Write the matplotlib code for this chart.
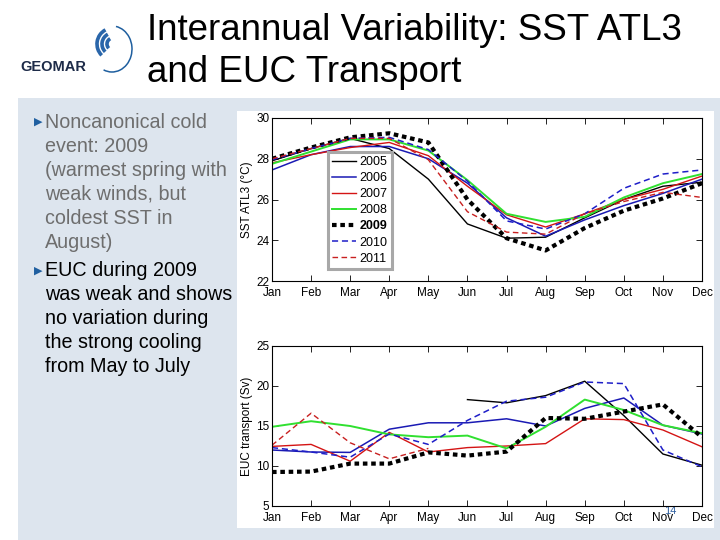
import matplotlib.pyplot as plt
from matplotlib.patches import Rectangle, Arc
import numpy as np

plt.rcParams['font.family'] = ['Liberation Sans', 'DejaVu Sans']

months = ['Jan', 'Feb', 'Mar', 'Apr', 'May', 'Jun',
          'Jul', 'Aug', 'Sep', 'Oct', 'Nov', 'Dec']
years = ['2005', '2006', '2007', '2008', '2009', '2010', '2011']

# SST ATL3 (deg C), monthly
sst_2005 = [27.9, 28.5, 29.0, 28.5, 27.0, 24.8, 24.1, 24.15, 25.1, 26.0, 26.65, 26.85]
sst_2006 = [27.45, 28.2, 28.6, 28.6, 28.0, 26.8, 25.1, 24.2, 25.0, 25.7, 26.3, 27.0]
sst_2007 = [27.8, 28.2, 28.55, 28.8, 28.15, 26.65, 25.25, 24.65, 25.3, 26.0, 26.5, 27.15]
sst_2008 = [27.75, 28.35, 28.95, 28.95, 28.4, 26.95, 25.3, 24.9, 25.15, 26.1, 26.8, 27.25]
sst_2009 = [28.0, 28.55, 29.05, 29.25, 28.8, 26.0, 24.1, 23.5, 24.6, 25.45, 26.05, 26.8]
sst_2010 = [27.95, 28.5, 29.0, 29.05, 28.45, 26.9, 24.95, 24.55, 25.3, 26.55, 27.25, 27.45]
sst_2011 = [28.0, 28.5, 29.0, 29.0, 27.95, 25.4, 24.4, 24.3, 25.3, 25.9, 26.35, 26.1]

# EUC transport (Sv), monthly, nan = no data
nan = np.nan
euc_2005 = [nan, nan, nan, nan, nan, 18.3, 17.9, 18.8, 20.6, 16.3, 11.5, 10.1]
euc_2006 = [12.0, 11.75, 11.7, 14.6, 15.4, 15.4, 15.9, 15.0, 17.2, 18.5, 15.1, 14.0]
euc_2007 = [12.45, 12.7, 10.6, 14.2, 11.75, 12.3, 12.5, 12.8, 15.9, 15.8, 14.5, 12.4]
euc_2008 = [14.9, 15.6, 15.0, 13.95, 13.6, 13.8, 12.2, 14.9, 18.3, 17.0, 15.1, 14.1]
euc_2009 = [9.25, 9.3, 10.3, 10.3, 11.7, 11.3, 11.8, 16.0, 15.9, 16.8, 17.7, 13.6]
euc_2010 = [12.3, 11.75, 11.1, 14.0, 12.7, 15.7, 18.1, 18.6, 20.5, 20.3, 12.0, 9.9]
euc_2011 = [12.6, 16.6, 12.9, 10.9, 12.2, nan, nan, nan, nan, nan, nan, nan]

sst = [sst_2005, sst_2006, sst_2007, sst_2008, sst_2009, sst_2010, sst_2011]
euc = [euc_2005, euc_2006, euc_2007, euc_2008, euc_2009, euc_2010, euc_2011]

styles = [
    dict(color='black', lw=1.0, ls='-'),
    dict(color='#1a1ab4', lw=1.1, ls='-'),
    dict(color='#d41414', lw=1.0, ls='-'),
    dict(color='#30e030', lw=1.4, ls='-'),
    dict(color='black', lw=3.0, ls=(0, (1.1, 0.9))),
    dict(color='#1e1ec8', lw=1.1, ls=(0, (4, 2.5))),
    dict(color='#c82020', lw=1.0, ls=(0, (4, 2.5))),
]

fig = plt.figure(figsize=(7.2, 5.4), dpi=100)

# slide background in pixel coordinates
bg = fig.add_axes([0, 0, 1, 1], zorder=-1)
bg.set_xlim(0, 720)
bg.set_ylim(540, 0)
bg.axis('off')
bg.add_patch(Rectangle((18, 98), 702, 442, color='#dde5ee', lw=0))
bg.add_patch(Rectangle((237, 111), 477, 417, color='white', lw=0))

# logo (y axis is flipped here, so arc angles are mirrored)
bg.text(20, 67, 'GEOMAR', fontsize=10.5, fontweight='bold', color='#1d2b48',
        va='center', ha='left')
bg.add_patch(Arc((112, 49), 40, 46, theta1=-80, theta2=112, color='#1f5f9f', lw=1.1))
for d in [12, 22, 32]:
    bg.add_patch(Arc((113, 44), d, d, theta1=-225, theta2=-118, color='#2a66aa', lw=2.6))

bg.text(147, 31, 'Interannual Variability: SST ATL3', fontsize=26.5, va='center', ha='left')
bg.text(147, 73, 'and EUC Transport', fontsize=26.5, va='center', ha='left')

bullet1 = ['Noncanonical cold', 'event: 2009', '(warmest spring with',
           'weak winds, but', 'coldest SST in', 'August)']
bullet2 = ['EUC during 2009', 'was weak and shows', 'no variation during',
           'the strong cooling', 'from May to July']
for i, line in enumerate(bullet1):
    bg.text(45, 122 + 24 * i, line, fontsize=14.2, color='#6e6e6e', va='center')
for i, line in enumerate(bullet2):
    bg.text(45, 271 + 24 * i, line, fontsize=14.2, color='black', va='center')
for yb in [122, 271]:
    bg.text(34, yb, '\u25b6', fontsize=8, color='#1f5fa0', va='center',
            family='DejaVu Sans')

bg.text(670, 511, '14', fontsize=8, color='#3060a0', va='center', ha='center')

x = np.arange(len(months))

def style_axes(ax, ylim, yticks, ylabel):
    ax.set_xlim(0, 11)
    ax.set_ylim(*ylim)
    ax.set_xticks(x)
    ax.set_xticklabels(months)
    ax.set_yticks(yticks)
    ax.tick_params(direction='in', length=4, width=0.6, top=True, right=True,
                   labelsize=8.5, pad=2)
    ax.tick_params(axis='x', pad=4)
    for s in ax.spines.values():
        s.set_linewidth(0.8)
    ax.set_ylabel(ylabel, fontsize=8.5, labelpad=2)

ax1 = fig.add_axes([272 / 720, 1 - 281 / 540, 430 / 720, 163 / 540])
for yr, vals, st in zip(years, sst, styles):
    ax1.plot(x, vals, label=yr, **st)
style_axes(ax1, (22, 30), [22, 24, 26, 28, 30], 'SST ATL3 (\u00b0C)')
leg = ax1.legend(loc='lower left', bbox_to_anchor=(0.115, 0.035), fontsize=9,
                 handlelength=1.9, labelspacing=0.33, borderpad=0.35,
                 handletextpad=0.3, fancybox=False, framealpha=1)
leg.get_frame().set_edgecolor('#a8a8a8')
leg.get_frame().set_linewidth(2.2)
for t in leg.get_texts():
    if t.get_text() == '2009':
        t.set_fontweight('bold')

ax2 = fig.add_axes([272 / 720, 1 - 506 / 540, 430 / 720, 160 / 540])
for yr, vals, st in zip(years, euc, styles):
    ax2.plot(x, vals, **st)
style_axes(ax2, (5, 25), [5, 10, 15, 20, 25], 'EUC transport (Sv)')

fig.savefig('out.png', dpi=100)
